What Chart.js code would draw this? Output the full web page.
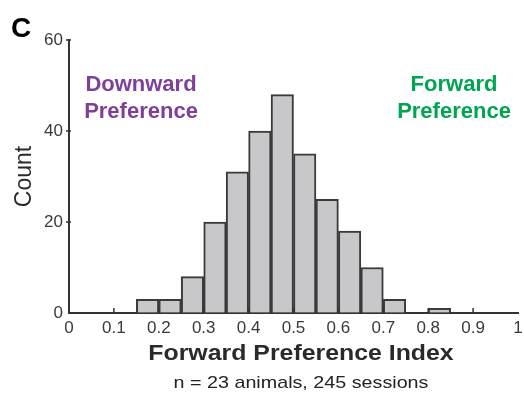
<!DOCTYPE html>
<html>
<head>
<meta charset="utf-8">
<script src="https://cdn.jsdelivr.net/npm/chart.js@4/dist/chart.umd.min.js"></script>
<style>
  html, body { margin: 0; padding: 0; background: #ffffff; }
  #wrap { position: relative; width: 524px; height: 394px; overflow: hidden; }
  canvas { position: absolute; left: 0; top: 0; }
  .lbl { position: absolute; font-family: "Liberation Sans", Arial, sans-serif; font-weight: bold; white-space: nowrap; }
  .ctr { position: absolute; left: 100.5px; width: 400px; text-align: center; white-space: nowrap; font-family: "Liberation Sans", Arial, sans-serif; transform-origin: 50% 50%; }
</style>
</head>
<body>
<div id="wrap">
  <canvas id="c" width="524" height="394"></canvas>
  <div class="lbl" style="left:11px; top:14px; font-size:28px; line-height:28px; color:#000;">C</div>
  <div class="lbl" style="left:80px; top:70px; width:122px; text-align:center; font-size:22px; line-height:27px; color:#7f3f98;">Downward<br>Preference</div>
  <div class="lbl" style="left:393px; top:70px; width:122px; text-align:center; font-size:22px; line-height:27px; color:#00a551;">Forward<br>Preference</div>
  <div id="xtitle" class="ctr" style="top:341.7px; font-size:22px; line-height:22px; font-weight:bold; color:#2a2a2a; transform:scaleX(1.13);"></div>
  <div id="foot" class="ctr" style="top:374.2px; font-size:17px; line-height:17px; color:#222; transform:scaleX(1.16);"></div>
</div>
<script>
// ---- data ----
const binStarts = [0.15, 0.20, 0.25, 0.30, 0.35, 0.40, 0.45, 0.50, 0.55, 0.60, 0.65, 0.70, 0.75, 0.80];
const binWidth = 0.05;
const counts = [3, 3, 8, 20, 31, 40, 48, 35, 25, 18, 10, 3, 0, 1];
const xTicks = [0, 0.1, 0.2, 0.3, 0.4, 0.5, 0.6, 0.7, 0.8, 0.9, 1];
const xTickLabels = ["0", "0.1", "0.2", "0.3", "0.4", "0.5", "0.6", "0.7", "0.8", "0.9", "1"];
const yTicks = [0, 20, 40, 60];
const yTickLabels = ["0", "20", "40", "60"];
const xTitle = "Forward Preference Index";
const yTitle = "Count";
const footnote = "n = 23 animals, 245 sessions";

document.getElementById('xtitle').textContent = xTitle;
document.getElementById('foot').textContent = footnote;

const FONT = '"Liberation Sans", Arial, sans-serif';
const AXIS_COLOR = '#333333';
const TEXT_COLOR = '#3a3a3a';

const points = binStarts.map((s, i) => ({ x: s + binWidth / 2, y: counts[i] }));

const tickMarks = {
  id: 'tickMarks',
  afterDatasetsDraw(chart) {
    const ctx = chart.ctx;
    const xs = chart.scales.x, ys = chart.scales.y;
    const area = chart.chartArea;
    ctx.save();
    ctx.strokeStyle = AXIS_COLOR;
    ctx.lineWidth = 1.5;
    ctx.beginPath();
    xTicks.forEach(v => {
      if (v === 0 || v === 1) return;
      const px = xs.getPixelForValue(v);
      ctx.moveTo(px, area.bottom);
      ctx.lineTo(px, area.bottom - 5);
    });
    yTicks.forEach(v => {
      if (v === 0) return;
      const py = ys.getPixelForValue(v);
      ctx.moveTo(area.left - 3, py);
      ctx.lineTo(area.left + 2, py);
    });
    ctx.stroke();
    ctx.restore();
  }
};

new Chart(document.getElementById('c'), {
  type: 'bar',
  data: {
    datasets: [{
      data: points,
      backgroundColor: '#c8c8ca',
      borderColor: '#3a3a3a',
      borderWidth: 2,
      borderSkipped: 'start',
      barPercentage: 1,
      categoryPercentage: 1,
      grouped: false
    }]
  },
  options: {
    responsive: false,
    animation: false,
    devicePixelRatio: 1,
    layout: { padding: { left: 0, right: 6, top: 40, bottom: 0 } },
    plugins: {
      legend: { display: false },
      tooltip: { enabled: false },
      title: { display: false }
    },
    scales: {
      x: {
        type: 'linear',
        min: 0, max: 1,
        offset: false,
        afterBuildTicks: s => { s.ticks = xTicks.map(v => ({ value: v })); },
        afterFit: s => { s.height = 81; s.paddingRight = 0; s.paddingLeft = 0; },
        ticks: {
          callback: (v, i) => xTickLabels[i],
          color: TEXT_COLOR,
          font: { family: FONT, size: 17 },
          padding: 5,
          maxRotation: 0,
          autoSkip: false
        },
        grid: { display: true, drawOnChartArea: false, drawTicks: false, offset: false },
        border: { display: true, color: AXIS_COLOR, width: 2 },
        title: { display: false }
      },
      y: {
        type: 'linear',
        min: 0, max: 60,
        afterBuildTicks: s => { s.ticks = yTicks.map(v => ({ value: v })); },
        afterFit: s => { s.width = 69; },
        ticks: {
          callback: (v, i) => yTickLabels[i],
          color: TEXT_COLOR,
          font: { family: FONT, size: 17 },
          padding: 6
        },
        grid: { display: true, drawOnChartArea: false, drawTicks: false },
        border: { display: true, color: AXIS_COLOR, width: 2 },
        title: {
          display: true,
          text: yTitle,
          color: '#2a2a2a',
          font: { family: FONT, size: 23, weight: 'normal', lineHeight: 1.2 },
          padding: { top: 11, bottom: 0 }
        }
      }
    }
  },
  plugins: [tickMarks]
});
</script>
</body>
</html>
